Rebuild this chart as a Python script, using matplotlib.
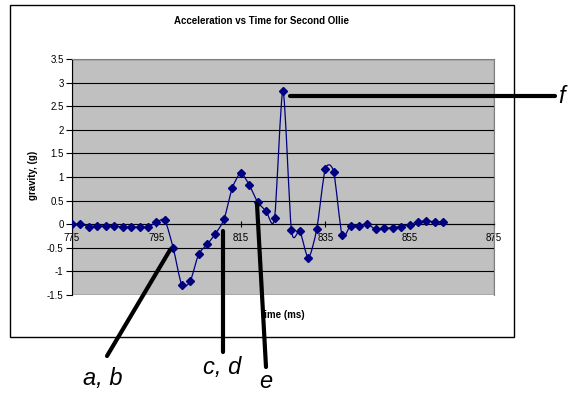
import matplotlib
matplotlib.use("Agg")
import matplotlib.pyplot as plt
from matplotlib.path import Path
from matplotlib.patches import PathPatch, Rectangle
from matplotlib.lines import Line2D
from matplotlib.ticker import MultipleLocator, FormatStrFormatter
import numpy as np

plt.rcParams["font.family"] = ["Liberation Sans", "DejaVu Sans"]

# time samples (ms) and acceleration readings (g)
time_ms = list(range(775, 865, 2))
gravity = [0.0, 0.0, -0.05, -0.04, -0.04, -0.04, -0.06, -0.06, -0.06, -0.06,
           0.04, 0.08, -0.51, -1.28, -1.21, -0.64, -0.43, -0.20, 0.10, 0.77,
           1.08, 0.83, 0.47, 0.28, 0.13, 2.83, -0.13, -0.15, -0.71, -0.10,
           1.16, 1.11, -0.23, -0.03, -0.03, 0.0, -0.11, -0.09, -0.07, -0.05,
           -0.01, 0.05, 0.07, 0.05, 0.05]

x_ticks = [775, 795, 815, 835, 855, 875]

# callout labels: text, line start (px), line end (px), text baseline position (px)
callouts = [
    ("a, b", (170, 250), (107, 356), (103, 385)),
    ("c, d", (223, 231), (223, 352), (222, 374)),
    ("e", (257, 204), (266, 367), (266, 388)),
    ("f", (290, 96), (555, 96), (562, 103)),
]

W, H = 569, 393


def px(x, y):
    return x / W, 1 - y / H


def smooth_path(xs, ys, k=8):
    # lightly smoothed line (Catmull-Rom style cubic Bezier segments)
    pts = np.column_stack([xs, ys]).astype(float)
    verts = [pts[0]]
    codes = [Path.MOVETO]
    n = len(pts)
    for i in range(n - 1):
        p0 = pts[max(i - 1, 0)]
        p1 = pts[i]
        p2 = pts[i + 1]
        p3 = pts[min(i + 2, n - 1)]
        c1 = p1 + (p2 - p0) / k
        c2 = p2 - (p3 - p1) / k
        verts += [c1, c2, p2]
        codes += [Path.CURVE4] * 3
    return Path(verts, codes)


fig = plt.figure(figsize=(W / 100, H / 100), dpi=100)

# chart border
fig.add_artist(Rectangle(px(10, 337), 504 / W, 332 / H, transform=fig.transFigure,
                         fill=False, edgecolor="black", linewidth=1))

left, top, right, bottom = 72, 59, 494, 295
ax = fig.add_axes([left / W, 1 - bottom / H, (right - left) / W, (bottom - top) / H])
ax.set_facecolor("#C0C0C0")
ax.set_xlim(775, 875)
ax.set_ylim(-1.5, 3.5)

ax.add_patch(PathPatch(smooth_path(time_ms, gravity), facecolor="none",
                       edgecolor="#000080", linewidth=0.9, zorder=3))
ax.plot(time_ms, gravity, linestyle="none", marker="D", markersize=3.8,
        color="#000080", zorder=4)

ax.yaxis.set_major_locator(MultipleLocator(0.5))
ax.yaxis.set_major_formatter(FormatStrFormatter("%g"))
ax.set_xticks(x_ticks)
ax.grid(axis="y", color="black", linewidth=0.8)
ax.set_axisbelow(True)

for side in ["top", "right"]:
    ax.spines[side].set_color("#808080")
ax.spines["bottom"].set_position(("data", 0))
ax.spines["bottom"].set_color("black")
ax.spines["left"].set_color("black")
ax.add_patch(Rectangle((0, 0), 1, 1, transform=ax.transAxes, fill=False,
                       edgecolor="#808080", linewidth=1, zorder=0.5))

ax.tick_params(axis="y", direction="out", length=4, width=0.8, pad=2,
               labelsize=7, colors="black")
ax.tick_params(axis="x", direction="inout", length=4, width=0.8, pad=4,
               labelsize=7, colors="black")

fig.text(*px(262, 21), "Acceleration vs Time for Second Ollie", fontsize=7,
         fontweight="bold", ha="center", va="center")
fig.text(*px(283, 315), "time (ms)", fontsize=7, fontweight="bold",
         ha="center", va="center")
fig.text(*px(33, 175), "gravity, (g)", fontsize=7, fontweight="bold",
         ha="center", va="center", rotation=90)

for label, start, end, pos in callouts:
    (x0, y0), (x1, y1) = px(*start), px(*end)
    fig.add_artist(Line2D([x0, x1], [y0, y1], transform=fig.transFigure,
                          color="black", linewidth=3, solid_capstyle="round",
                          zorder=10))
    fig.text(*px(*pos), label, fontsize=17, style="italic",
             ha="center", va="baseline")

fig.savefig("out.png", dpi=100)
